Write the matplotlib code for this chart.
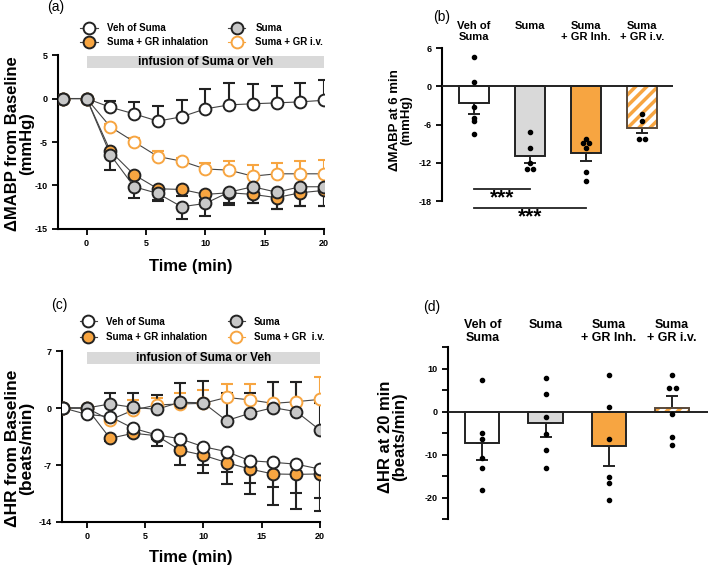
import numpy as np
import matplotlib
matplotlib.use("Agg")
import matplotlib.pyplot as plt
from matplotlib.lines import Line2D
from matplotlib.patches import Rectangle

plt.rcParams['font.family'] = ['Liberation Sans', 'DejaVu Sans']
plt.rcParams['hatch.linewidth'] = 2.5
plt.rcParams['axes.unicode_minus'] = False

# ---------------- data ----------------
time = [-2, 0, 2, 4, 6, 8, 10, 12, 14, 16, 18, 20]
groups = ['Veh of Suma', 'Suma', 'Suma + GR inhalation', 'Suma + GR i.v.']

# (a) delta MABP time course, mean and one-sided SEM
mabp_veh = [0, 0, -1.0, -1.76, -2.6, -2.1, -1.19, -0.73, -0.6, -0.5, -0.38, -0.2]
mabp_veh_err = [0, 0, 0.77, 1.38, 1.8, 1.9, 2.34, 2.53, 2.25, 1.92, 2.18, 2.38]
mabp_suma = [0, 0, -6.47, -10.15, -10.92, -12.45, -12.07, -10.77, -10.15, -10.77, -10.15, -10.15]
mabp_suma_err = [0, 0, 1.7, 1.35, 0.9, 1.45, 1.45, 1.5, 1.9, 1.9, 2.25, 2.25]
mabp_inh = [0, 0, -6.05, -8.77, -10.38, -10.46, -11.03, -10.84, -11.03, -11.4, -10.84, -10.57]
mabp_inh_err = [0, 0, 0.5, 0.5, 1.3, 0.8, 0.6, 1.2, 1.0, 1.3, 1.5, 1.8]
mabp_iv = [0, 0, -3.26, -4.98, -6.67, -7.2, -8.1, -8.24, -8.93, -8.66, -8.66, -8.66]
mabp_iv_err = [0, 0, 0.3, 0.46, 0.67, 0.4, 0.7, 1.0, 1.23, 1.26, 1.5, 1.56]

# (c) delta HR time course
hr_veh = [0, -0.78, -1.06, -2.5, -3.3, -3.77, -4.75, -5.36, -6.47, -6.67, -6.9, -7.5]
hr_veh_err = [0, 0, 0.3, 0.4, 0.5, 1.0, 2.25, 2.45, 2.78, 3.0, 3.5, 3.5]
hr_suma = [0, 0, 0.5, 0.08, -0.16, 0.7, 0.65, -1.55, -0.65, 0.04, -0.45, -2.7]
hr_suma_err = [0, 0, 1.3, 1.8, 1.8, 2.4, 2.65, 3.45, 2.55, 3.1, 3.6, 3.27]
hr_inh = [0, 0, -3.72, -3.1, -3.4, -5.16, -5.8, -6.7, -7.5, -8.1, -8.15, -8.1]
hr_inh_err = [0, 0, 0.3, 0.3, 1.3, 1.85, 2.15, 2.6, 3.1, 3.8, 4.3, 4.5]
hr_iv = [0, 0, -1.47, -0.25, 0.37, 0.5, 0.57, 1.3, 1.0, 0.57, 0.78, 1.06]
hr_iv_err = [0, 0, 0.3, 1.25, 0.8, 1.4, 1.6, 1.7, 1.95, 2.6, 2.4, 2.7]

# (b) delta MABP at 6 min
bar_labels_b = ['Veh of\nSuma', 'Suma', 'Suma\n+ GR Inh.', 'Suma\n+ GR i.v.']
mabp6_mean = [-2.6, -10.9, -10.4, -6.6]
mabp6_sem = [1.8, 1.1, 1.3, 0.75]
mabp6_dots = [[4.6, 0.7, -3.3, -5.0, -5.5, -7.4],
              [-7.2, -9.7, -12.0, -13.0, -13.0],
              [-8.2, -8.8, -8.9, -9.6, -13.4, -14.9],
              [-4.3, -5.4, -8.3, -8.3]]
sig_pairs_b = [(0, 1), (0, 2)]
sig_levels_b = [-16.1, -19.1]

# (d) delta HR at 20 min
bar_labels_d = ['Veh of\nSuma', 'Suma', 'Suma\n+ GR Inh.', 'Suma\n+ GR i.v.']
hr20_mean = [-7.4, -2.6, -7.9, 0.85]
hr20_sem = [3.8, 3.3, 4.7, 2.8]
hr20_dots = [[7.3, -4.9, -6.3, -10.7, -13.2, -18.3],
             [7.7, 4.0, -1.2, -5.3, -8.9, -13.2],
             [8.6, 1.1, -6.3, -15.1, -16.7, -20.5],
             [8.6, 5.5, 5.5, -0.6, -6.0, -7.8]]

infusion = (0, 20)

# ---------------- style ----------------
ORANGE = '#F7A541'
GRAY = '#C8C8C8'
BARGRAY = '#D9D9D9'
DARK = '#222222'
LINE = '#444444'

series_style = {
    'Veh of Suma': dict(mfc='white', mec=DARK, ecol=DARK),
    'Suma': dict(mfc=GRAY, mec=DARK, ecol=DARK),
    'Suma + GR inhalation': dict(mfc=ORANGE, mec=DARK, ecol=DARK),
    'Suma + GR i.v.': dict(mfc='white', mec=ORANGE, ecol=ORANGE),
}

fig = plt.figure(figsize=(7.09, 5.68), dpi=100)


def style_axes(ax):
    for s in ['top', 'right']:
        ax.spines[s].set_visible(False)
    for s in ['left', 'bottom']:
        ax.spines[s].set_linewidth(1.5)
    ax.tick_params(width=1.3, length=4, labelsize=6.5)
    for lab in ax.get_xticklabels() + ax.get_yticklabels():
        lab.set_fontweight('bold')


def draw_series(ax, y, err, name, down):
    st = series_style[name]
    lower = err if down else [0] * len(err)
    upper = [0] * len(err) if down else err
    ax.errorbar(time, y, yerr=[lower, upper], fmt='none', ecolor=st['ecol'],
                elinewidth=1.5, capsize=4, capthick=1.5, zorder=2)
    ax.plot(time, y, '-', color=LINE, lw=0.8, zorder=3)
    ax.plot(time, y, 'o', ms=8.5, mfc=st['mfc'], mec=st['mec'], mew=1.4, zorder=4)


def legend_handles(names):
    hs = []
    for n in names:
        st = series_style[n]
        hs.append(Line2D([], [], color=LINE if n != 'Suma + GR i.v.' else ORANGE, lw=0.8,
                         marker='o', ms=8.5, mfc=st['mfc'], mec=st['mec'], mew=1.4))
    return hs


def infusion_bar(ax, y0, h):
    ax.add_patch(Rectangle((infusion[0], y0), infusion[1] - infusion[0], h,
                           facecolor=BARGRAY, edgecolor='none', zorder=1))
    ax.text(np.mean(infusion), y0 + h / 2, 'infusion of Suma or Veh', ha='center',
            va='center', fontsize=8.5, fontweight='bold', zorder=2)


def swarm(vals, thr, dx):
    vals = np.asarray(vals, float)
    order = np.argsort(vals)
    offs = np.zeros(len(vals))
    clusters, cur = [], [order[0]]
    for a, b in zip(order[:-1], order[1:]):
        if vals[b] - vals[a] < thr:
            cur.append(b)
        else:
            clusters.append(cur)
            cur = [b]
    clusters.append(cur)
    for c in clusters:
        n = len(c)
        for k, i in enumerate(c):
            offs[i] = (k - (n - 1) / 2) * dx
    return offs


def bar_panel(ax, means, sems, dots, labels, thr, label_y, label_size):
    x = np.arange(len(means))
    faces = ['white', BARGRAY, ORANGE, 'white']
    for i in range(len(means)):
        if i == 3:
            ax.bar(x[i], means[i], width=0.54, color='white', edgecolor=ORANGE,
                   hatch='///', linewidth=0, zorder=2)
            ax.bar(x[i], means[i], width=0.54, fill=False, edgecolor='#5a4a3a',
                   linewidth=1.4, zorder=3)
        else:
            ax.bar(x[i], means[i], width=0.54, color=faces[i], edgecolor=DARK,
                   linewidth=1.4, zorder=2)
        sign = 1 if means[i] >= 0 else -1
        ax.errorbar(x[i], means[i], yerr=[[sems[i] if sign < 0 else 0], [sems[i] if sign > 0 else 0]],
                    fmt='none', ecolor=DARK, elinewidth=1.4, capsize=4, capthick=1.4, zorder=1)
        offs = swarm(dots[i], thr, 0.11)
        ax.plot(x[i] + offs, dots[i], 'o', ms=3, color='black', zorder=5)
        ax.text(x[i], label_y, labels[i], transform=ax.get_xaxis_transform(),
                ha='center', va='top', fontsize=label_size, fontweight='bold',
                linespacing=1.1)
    ax.axhline(0, color=DARK, lw=1.4, zorder=4)
    ax.spines['bottom'].set_visible(False)
    ax.set_xticks([])


# ---------------- (a) ----------------
ax = fig.add_axes([0.082, 0.597, 0.375, 0.306])
draw_series(ax, mabp_veh, mabp_veh_err, 'Veh of Suma', down=False)
draw_series(ax, mabp_iv, mabp_iv_err, 'Suma + GR i.v.', down=False)
draw_series(ax, mabp_inh, mabp_inh_err, 'Suma + GR inhalation', down=True)
draw_series(ax, mabp_suma, mabp_suma_err, 'Suma', down=True)
infusion_bar(ax, 3.5, 1.45)
ax.set_xlim(-2.4, 20)
ax.set_ylim(-15, 5)
ax.set_xticks([0, 5, 10, 15, 20])
ax.set_yticks([-15, -10, -5, 0, 5])
ax.set_xlabel('Time (min)', fontsize=12, fontweight='bold', labelpad=8)
ax.set_ylabel('ΔMABP from Baseline\n(mmHg)', fontsize=12, fontweight='bold', linespacing=0.95)
ax.yaxis.set_label_coords(-0.09, 0.49)
style_axes(ax)
order = ['Veh of Suma', 'Suma + GR inhalation', 'Suma', 'Suma + GR i.v.']
ax.legend(legend_handles(order), order, ncol=2, loc='upper left',
          bbox_to_anchor=(0.083, 1.185), frameon=False, borderpad=0, borderaxespad=0,
          handlelength=1.8, handletextpad=1.0, columnspacing=2.0, labelspacing=0.45,
          prop=dict(size=7, weight='bold'))
fig.text(0.066, 0.987, '(a)', fontsize=10, ha='left', va='center')

# ---------------- (b) ----------------
ax = fig.add_axes([0.623, 0.646, 0.326, 0.269])
bar_panel(ax, mabp6_mean, mabp6_sem, mabp6_dots, bar_labels_b, 0.3, 1.18, 8)
ax.set_xlim(-0.57, 3.55)
ax.set_ylim(-18, 6)
ax.set_yticks([-18, -12, -6, 0, 6])
ax.set_ylabel('ΔMABP at 6 min\n(mmHg)', fontsize=9.5, fontweight='bold', linespacing=0.95)
ax.yaxis.set_label_coords(-0.126, 0.53)
style_axes(ax)
for (i, j), lev in zip(sig_pairs_b, sig_levels_b):
    ax.plot([i, j], [lev, lev], color=DARK, lw=1.3, clip_on=False)
    ax.text((i + j) / 2, lev - 1.35, '***', ha='center', va='center', fontsize=15,
            fontweight='bold', clip_on=False)
fig.text(0.611, 0.97, '(b)', fontsize=10, ha='left', va='center')

# ---------------- (c) ----------------
ax = fig.add_axes([0.087, 0.081, 0.364, 0.301])
draw_series(ax, hr_iv, hr_iv_err, 'Suma + GR i.v.', down=False)
draw_series(ax, hr_inh, hr_inh_err, 'Suma + GR inhalation', down=True)
draw_series(ax, hr_suma, hr_suma_err, 'Suma', down=False)
draw_series(ax, hr_veh, hr_veh_err, 'Veh of Suma', down=True)
infusion_bar(ax, 5.4, 1.5)
ax.set_xlim(-2.15, 20)
ax.set_ylim(-14, 7)
ax.set_xticks([0, 5, 10, 15, 20])
ax.set_yticks([-14, -7, 0, 7])
ax.set_xlabel('Time (min)', fontsize=12, fontweight='bold', labelpad=6)
ax.set_ylabel('ΔHR from Baseline\n(beats/min)', fontsize=12.5, fontweight='bold', linespacing=0.95)
ax.yaxis.set_label_coords(-0.105, 0.43)
style_axes(ax)
labels_c = ['Veh of Suma', 'Suma + GR inhalation', 'Suma', 'Suma + GR  i.v.']
ax.legend(legend_handles(order), labels_c, ncol=2, loc='upper left',
          bbox_to_anchor=(0.07, 1.20), frameon=False, borderpad=0, borderaxespad=0,
          handlelength=1.8, handletextpad=0.9, columnspacing=2.1, labelspacing=0.55,
          prop=dict(size=7, weight='bold'))
fig.text(0.072, 0.463, '(c)', fontsize=10, ha='left', va='center')

# ---------------- (d) ----------------
ax = fig.add_axes([0.632, 0.086, 0.367, 0.303])
bar_panel(ax, hr20_mean, hr20_sem, hr20_dots, bar_labels_d, 0.6, 1.165, 9)
ax.set_xlim(-0.54, 3.57)
ax.set_ylim(-25, 15)
ax.set_yticks([-20, -10, 0, 10])
ax.set_yticks(np.arange(-25, 16, 5), minor=True)
ax.tick_params(which='minor', length=4, width=1.3)
ax.set_ylabel('ΔHR at 20 min\n(beats/min)', fontsize=12, fontweight='bold', linespacing=0.95)
ax.yaxis.set_label_coords(-0.158, 0.48)
style_axes(ax)
fig.text(0.597, 0.459, '(d)', fontsize=10, ha='left', va='center')

fig.savefig('out.png', dpi=100)
